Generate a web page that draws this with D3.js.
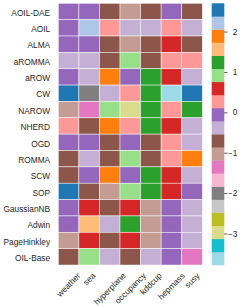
<!DOCTYPE html>
<html>
<head>
<meta charset="utf-8">
<script src="https://cdn.jsdelivr.net/npm/d3@7"></script>
<style>
html,body{margin:0;padding:0;background:#fff;}
svg{display:block;}
text{font-family:"Liberation Sans",Arial,sans-serif;fill:#262626;}
</style>
</head>
<body>
<svg id="chart" width="245" height="307"></svg>
<script>
const rowLabels = ["AOIL-DAE","AOIL","ALMA","aROMMA","aROW","CW","NAROW","NHERD","OGD","ROMMA","SCW","SOP","GaussianNB","Adwin","PageHinkley","OIL-Base"];
const colLabels = ["weather","sea","hyperplane","occupancy","kddcup","hepmass","susy"];
const values = [
  [-0.05,-0.05,-0.7,-1.0,-0.7,-0.05,-0.7],
  [-0.05,2.2,0.25,-0.4,-0.4,0.25,-0.4],
  [-0.05,-0.05,-0.7,-1.0,-0.7,0.6,-0.7],
  [-0.4,-0.4,-0.7,0.9,-0.7,0.25,0.25],
  [-0.05,-0.4,1.9,-0.05,1.25,0.6,-0.4],
  [2.70,-2.0,-0.4,0.25,1.25,-3.78,2.5],
  [-1.0,-1.35,0.9,-2.95,1.25,0.25,1.25],
  [0.25,-0.7,1.9,0.25,1.25,0.6,-0.4],
  [-0.05,-0.05,-0.7,-0.05,-0.7,0.25,-0.4],
  [-0.7,-0.4,-0.7,0.9,-0.7,0.25,1.9],
  [-0.7,-0.05,1.9,-0.05,1.25,0.6,-0.4],
  [2.5,-0.7,-1.0,0.9,1.25,0.6,-0.05],
  [-0.05,0.6,-0.7,0.6,-1.0,-0.05,-0.4],
  [-0.05,1.55,-0.4,1.25,-1.0,-0.05,-0.4],
  [-1.0,0.6,-0.7,0.6,-1.0,-0.05,-0.4],
  [-0.7,0.9,-0.4,-0.7,-0.4,-0.05,-1.35]
];
const colorbarTicks = [-3,-2,-1,0,1,2];
const tab20 = ["#1f77b4","#aec7e8","#ff7f0e","#ffbb78","#2ca02c","#98df8a","#d62728","#ff9896","#9467bd","#c5b0d5","#8c564b","#c49c94","#e377c2","#f7b6d2","#7f7f7f","#c7c7c7","#bcbd22","#dbdb8d","#17becf","#9edae5"];

const svg = d3.select("#chart");
const fs = 8.3;
const grid = {x0:58.3, x1:202.3, y0:3.3, y1:265};
const cb = {x0:211.7, x1:224.3};

const flat = values.flat();
const [vmin, vmax] = d3.extent(flat);
const color = d3.scaleQuantize().domain([vmin, vmax]).range(tab20.slice().reverse());

const x = d3.scaleBand().domain(colLabels).range([grid.x0, grid.x1]);
const y = d3.scaleBand().domain(rowLabels).range([grid.y0, grid.y1]);

const cells = [];
values.forEach((row, i) => row.forEach((v, j) => cells.push({r: rowLabels[i], c: colLabels[j], v})));

svg.append("g").selectAll("rect").data(cells).join("rect")
  .attr("x", d => x(d.c)).attr("y", d => y(d.r))
  .attr("width", x.bandwidth()).attr("height", y.bandwidth())
  .attr("fill", d => color(d.v))
  .attr("stroke", "#fff").attr("stroke-width", 0.6).attr("stroke-opacity", 0.8);

// row labels
svg.append("g").selectAll("text").data(rowLabels).join("text")
  .attr("x", grid.x0 - 8.2)
  .attr("y", d => y(d) + y.bandwidth()/2 + 4.2)
  .attr("text-anchor", "end")
  .attr("font-size", fs)
  .text(d => d);

// column labels rotated 45, centered bbox
const xl = svg.append("g");
colLabels.forEach(c => {
  const g = xl.append("g");
  const t = g.append("text").attr("font-size", fs).attr("text-anchor", "middle")
    .attr("x", 0).attr("y", 0.347*fs).text(c);
  const w = t.node().getComputedTextLength();
  const h = 1.117*fs;
  const cx = x(c) + x.bandwidth()/2;
  const cy = grid.y1 + 6 + (w + h)/(2*Math.SQRT2);
  g.attr("transform", `translate(${cx},${cy}) rotate(-45)`);
});

// colorbar
const cbScale = d3.scaleLinear().domain([vmin, vmax]).range([grid.y1, grid.y0]);
const bins = color.range().map(cl => {
  const [a, b] = color.invertExtent(cl);
  return {a, b, cl};
});
svg.append("g").selectAll("rect").data(bins).join("rect")
  .attr("x", cb.x0).attr("width", cb.x1 - cb.x0)
  .attr("y", d => cbScale(d.b)).attr("height", d => cbScale(d.a) - cbScale(d.b) + 0.3)
  .attr("fill", d => d.cl);

const axis = d3.axisRight(cbScale).tickValues(colorbarTicks).tickSize(3).tickFormat(d3.format("d"));
const ag = svg.append("g").attr("transform", `translate(${cb.x1},0)`).call(axis);
ag.select(".domain").remove();
ag.selectAll(".tick line").attr("stroke", "#262626").attr("stroke-width", 0.8);
ag.selectAll(".tick text").attr("x", 13.2).attr("text-anchor", "end")
  .attr("font-size", fs).attr("fill", "#262626")
  .attr("font-family", "Liberation Sans, Arial, sans-serif");
</script>
</body>
</html>
